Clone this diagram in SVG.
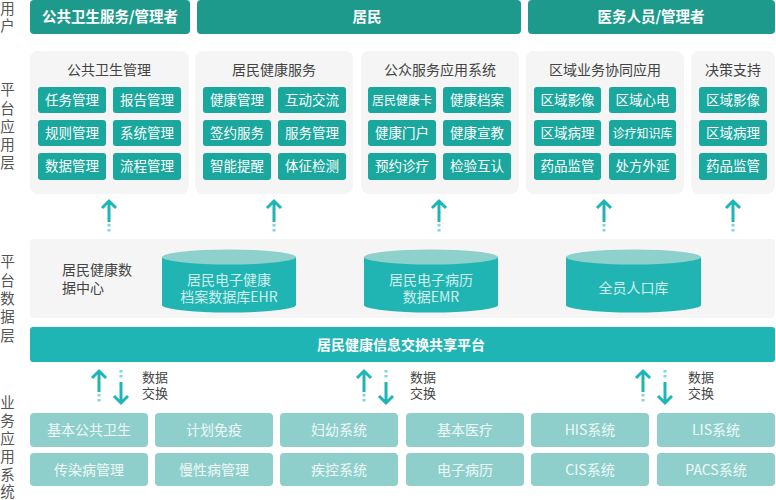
<svg xmlns="http://www.w3.org/2000/svg" width="776" height="500" viewBox="0 0 776 500">
<defs>
<style>
text{font-family:"Noto Sans CJK SC","Liberation Sans",sans-serif;}
.side{font-size:14.5px;fill:#555;text-anchor:middle;}
.user{fill:#1d9a8c;}
.ut{font-size:14.5px;font-weight:bold;fill:#fff;text-anchor:middle;}
.panel{fill:#f5f5f5;}
.pt{font-size:14px;fill:#444;text-anchor:middle;}
.ps{font-size:14px;fill:#444;}
.btn{fill:#1aa79d;}
.bt{font-size:13.5px;fill:#fff;text-anchor:middle;}
.bts{font-size:12px;fill:#fff;text-anchor:middle;}
.cylb{fill:#20b5b3;}
.cylt{fill:#8dd0cc;}
.ct{font-size:14px;fill:#d2eeec;text-anchor:middle;}
.biz{fill:#8ecfcc;}
.zt{font-size:14px;fill:#eef9f8;text-anchor:middle;}
.arr{stroke:#1fb5b5;stroke-width:3;fill:none;}
.dash{stroke:#1fb5b5;stroke-width:3;fill:none;stroke-dasharray:2.5 2.5;opacity:0.55;}
.lbl{font-size:13px;fill:#444;}
</style>
</defs>

<g id="side-labels">
<text class="side"><tspan x="7.5" y="14">用</tspan><tspan x="7.5" y="31">户</tspan></text>
<text class="side"><tspan x="7.5" y="95">平</tspan><tspan x="7.5" y="114">台</tspan><tspan x="7.5" y="132">应</tspan><tspan x="7.5" y="150">用</tspan><tspan x="7.5" y="168">层</tspan></text>
<text class="side"><tspan x="7.5" y="267">平</tspan><tspan x="7.5" y="286">台</tspan><tspan x="7.5" y="304">数</tspan><tspan x="7.5" y="322">据</tspan><tspan x="7.5" y="341">层</tspan></text>
<text class="side"><tspan x="7.5" y="408">业</tspan><tspan x="7.5" y="426">务</tspan><tspan x="7.5" y="444">应</tspan><tspan x="7.5" y="462">用</tspan><tspan x="7.5" y="480">系</tspan><tspan x="7.5" y="497">统</tspan></text>
</g>

<g id="users">
<rect class="user" x="30" y="0" width="160" height="34" rx="4"/>
<text class="ut" x="110" y="22">公共卫生服务/管理者</text>
<rect class="user" x="197" y="0" width="324" height="34" rx="4"/>
<text class="ut" x="367" y="22">居民</text>
<rect class="user" x="528" y="0" width="247" height="34" rx="4"/>
<text class="ut" x="651" y="22">医务人员/管理者</text>
</g>

<g id="panel-public-health">
<rect class="panel" x="30" y="51" width="159" height="143" rx="8"/>
<text class="pt" x="109" y="75">公共卫生管理</text>
<rect class="btn" x="38" y="87" width="68" height="26" rx="3"/><text class="bt" x="72" y="105">任务管理</text>
<rect class="btn" x="113" y="87" width="68" height="26" rx="3"/><text class="bt" x="147" y="105">报告管理</text>
<rect class="btn" x="38" y="120" width="68" height="26" rx="3"/><text class="bt" x="72" y="138">规则管理</text>
<rect class="btn" x="113" y="120" width="68" height="26" rx="3"/><text class="bt" x="147" y="138">系统管理</text>
<rect class="btn" x="38" y="153" width="68" height="27" rx="3"/><text class="bt" x="72" y="171">数据管理</text>
<rect class="btn" x="113" y="153" width="68" height="27" rx="3"/><text class="bt" x="147" y="171">流程管理</text>
</g>

<g id="panel-resident-health">
<rect class="panel" x="195" y="51" width="158" height="143" rx="8"/>
<text class="pt" x="274" y="75">居民健康服务</text>
<rect class="btn" x="203" y="87" width="68" height="26" rx="3"/><text class="bt" x="237" y="105">健康管理</text>
<rect class="btn" x="278" y="87" width="68" height="26" rx="3"/><text class="bt" x="312" y="105">互动交流</text>
<rect class="btn" x="203" y="120" width="68" height="26" rx="3"/><text class="bt" x="237" y="138">签约服务</text>
<rect class="btn" x="278" y="120" width="68" height="26" rx="3"/><text class="bt" x="312" y="138">服务管理</text>
<rect class="btn" x="203" y="153" width="68" height="27" rx="3"/><text class="bt" x="237" y="171">智能提醒</text>
<rect class="btn" x="278" y="153" width="68" height="27" rx="3"/><text class="bt" x="312" y="171">体征检测</text>
</g>

<g id="panel-public-service">
<rect class="panel" x="361" y="51" width="158" height="143" rx="8"/>
<text class="pt" x="440" y="75">公众服务应用系统</text>
<rect class="btn" x="368" y="87" width="68" height="26" rx="3"/><text class="bts" x="402" y="104.5">居民健康卡</text>
<rect class="btn" x="443" y="87" width="68" height="26" rx="3"/><text class="bt" x="477" y="105">健康档案</text>
<rect class="btn" x="368" y="120" width="68" height="26" rx="3"/><text class="bt" x="402" y="138">健康门户</text>
<rect class="btn" x="443" y="120" width="68" height="26" rx="3"/><text class="bt" x="477" y="138">健康宣教</text>
<rect class="btn" x="368" y="153" width="68" height="27" rx="3"/><text class="bt" x="402" y="171">预约诊疗</text>
<rect class="btn" x="443" y="153" width="68" height="27" rx="3"/><text class="bt" x="477" y="171">检验互认</text>
</g>

<g id="panel-regional">
<rect class="panel" x="526" y="51" width="158" height="143" rx="8"/>
<text class="pt" x="605" y="75">区域业务协同应用</text>
<rect class="btn" x="534" y="87" width="67" height="26" rx="3"/><text class="bt" x="567.5" y="105">区域影像</text>
<rect class="btn" x="609" y="87" width="67" height="26" rx="3"/><text class="bt" x="642.5" y="105">区域心电</text>
<rect class="btn" x="534" y="120" width="67" height="26" rx="3"/><text class="bt" x="567.5" y="138">区域病理</text>
<rect class="btn" x="609" y="120" width="67" height="26" rx="3"/><text class="bts" x="642.5" y="137.5">诊疗知识库</text>
<rect class="btn" x="534" y="153" width="67" height="27" rx="3"/><text class="bt" x="567.5" y="171">药品监管</text>
<rect class="btn" x="609" y="153" width="67" height="27" rx="3"/><text class="bt" x="642.5" y="171">处方外延</text>
</g>

<g id="panel-decision">
<rect class="panel" x="691" y="51" width="84" height="143" rx="8"/>
<text class="pt" x="733" y="75">决策支持</text>
<rect class="btn" x="699" y="87" width="68" height="26" rx="3"/><text class="bt" x="733" y="105">区域影像</text>
<rect class="btn" x="699" y="120" width="68" height="26" rx="3"/><text class="bt" x="733" y="138">区域病理</text>
<rect class="btn" x="699" y="153" width="68" height="27" rx="3"/><text class="bt" x="733" y="171">药品监管</text>
</g>

<g id="data-center">
<rect class="panel" x="30" y="239" width="745" height="79" rx="4"/>
<text class="ps"><tspan x="62" y="275">居民健康数</tspan><tspan x="62" y="293">据中心</tspan></text>
</g>

<g id="db-ehr">
<path class="cylb" d="M162,257 L162,305 A67,7.5 0 0 0 296,305 L296,257 Z"/>
<ellipse class="cylt" cx="229" cy="257" rx="67" ry="7.5"/>
<text class="ct"><tspan x="229" y="285">居民电子健康</tspan><tspan x="229" y="302">档案数据库EHR</tspan></text>
</g>

<g id="db-emr">
<path class="cylb" d="M364,257 L364,305 A67,7.5 0 0 0 498,305 L498,257 Z"/>
<ellipse class="cylt" cx="431" cy="257" rx="67" ry="7.5"/>
<text class="ct"><tspan x="431" y="285">居民电子病历</tspan><tspan x="431" y="302">数据EMR</tspan></text>
</g>

<g id="db-population">
<path class="cylb" d="M566,257 L566,305 A67.5,7.5 0 0 0 701,305 L701,257 Z"/>
<ellipse class="cylt" cx="633.5" cy="257" rx="67.5" ry="7.5"/>
<text class="ct" x="633.5" y="293">全员人口库</text>
</g>

<g id="exchange-platform">
<rect x="30" y="327" width="745" height="35" rx="3" fill="#1fb5b5"/>
<text class="ut" x="401" y="350" style="font-size:14px">居民健康信息交换共享平台</text>
</g>

<g id="business-systems">
<rect class="biz" x="30" y="413" width="118" height="34" rx="4"/><text class="zt" x="89" y="435">基本公共卫生</text>
<rect class="biz" x="155" y="413" width="118" height="34" rx="4"/><text class="zt" x="214" y="435">计划免疫</text>
<rect class="biz" x="280" y="413" width="118" height="34" rx="4"/><text class="zt" x="339" y="435">妇幼系统</text>
<rect class="biz" x="406" y="413" width="118" height="34" rx="4"/><text class="zt" x="465" y="435">基本医疗</text>
<rect class="biz" x="531" y="413" width="118" height="34" rx="4"/><text class="zt" x="590" y="435">HIS系统</text>
<rect class="biz" x="657" y="413" width="118" height="34" rx="4"/><text class="zt" x="716" y="435">LIS系统</text>
<rect class="biz" x="30" y="453" width="118" height="33" rx="4"/><text class="zt" x="89" y="475">传染病管理</text>
<rect class="biz" x="155" y="453" width="118" height="33" rx="4"/><text class="zt" x="214" y="475">慢性病管理</text>
<rect class="biz" x="280" y="453" width="118" height="33" rx="4"/><text class="zt" x="339" y="475">疾控系统</text>
<rect class="biz" x="406" y="453" width="118" height="33" rx="4"/><text class="zt" x="465" y="475">电子病历</text>
<rect class="biz" x="531" y="453" width="118" height="33" rx="4"/><text class="zt" x="590" y="475">CIS系统</text>
<rect class="biz" x="657" y="453" width="118" height="33" rx="4"/><text class="zt" x="716" y="475">PACS系统</text>
</g>

<g id="connectors">
<g>
<path class="arr" d="M109,201 V222 M102,208 L109,201 L116,208"/><path class="dash" d="M109,224 V234"/>
<path class="arr" d="M274,201 V222 M267,208 L274,201 L281,208"/><path class="dash" d="M274,224 V234"/>
<path class="arr" d="M439,201 V222 M432,208 L439,201 L446,208"/><path class="dash" d="M439,224 V234"/>
<path class="arr" d="M604,201 V222 M597,208 L604,201 L611,208"/><path class="dash" d="M604,224 V234"/>
<path class="arr" d="M733,201 V222 M726,208 L733,201 L740,208"/><path class="dash" d="M733,224 V234"/>
</g>
<g>
<path class="arr" d="M99,371 V392 M92,378 L99,371 L106,378"/><path class="dash" d="M99,394 V404"/>
<path class="dash" d="M121,370 V380"/><path class="arr" d="M121,382 V403 M114,396 L121,403 L128,396"/>
<path class="arr" d="M364,371 V392 M357,378 L364,371 L371,378"/><path class="dash" d="M364,394 V404"/>
<path class="dash" d="M386,370 V380"/><path class="arr" d="M386,382 V403 M379,396 L386,403 L393,396"/>
<path class="arr" d="M643,371 V392 M636,378 L643,371 L650,378"/><path class="dash" d="M643,394 V404"/>
<path class="dash" d="M665,370 V380"/><path class="arr" d="M665,382 V403 M658,396 L665,403 L672,396"/>
</g>
<text class="lbl"><tspan x="142" y="382">数据</tspan><tspan x="142" y="398">交换</tspan></text>
<text class="lbl"><tspan x="410" y="382">数据</tspan><tspan x="410" y="398">交换</tspan></text>
<text class="lbl"><tspan x="688" y="382">数据</tspan><tspan x="688" y="398">交换</tspan></text>
</g>
</svg>
